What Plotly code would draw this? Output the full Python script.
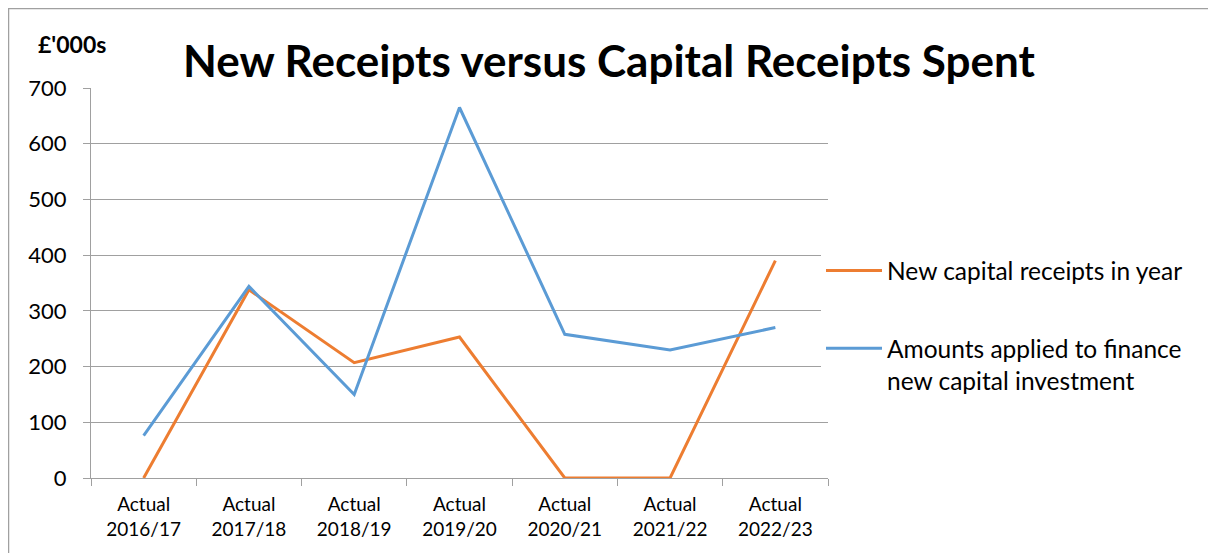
import plotly.graph_objects as go

categories = ["Actual<br>2016/17", "Actual<br>2017/18", "Actual<br>2018/19", "Actual<br>2019/20",
              "Actual<br>2020/21", "Actual<br>2021/22", "Actual<br>2022/23"]
new_receipts = [0, 338, 207, 253, 0, 0, 390]
amounts_applied = [76, 344, 150, 665, 258, 230, 270]

FONT = "Lato"
OFF = 8  # page body margin in the exported html
W, H = 1216 - OFF, 553 - OFF
L, T = 91 - OFF, 88 - OFF
R, B = W - (828 - OFF), H - (478 - OFF)
pw, ph = W - L - R, H - T - B


# helpers: screen pixel -> paper fraction
def px(x):
    return (x - OFF - L) / pw


def py(y):
    return (H - B - (y - OFF)) / ph


fig = go.Figure()
fig.add_trace(go.Scatter(x=categories, y=new_receipts, mode="lines",
                         name="New capital receipts in year",
                         line=dict(color="#ED7D31", width=3), legendgroup="a"))
fig.add_trace(go.Scatter(x=categories, y=amounts_applied, mode="lines",
                         name="Amounts applied to finance<br>new capital investment",
                         line=dict(color="#5B9BD5", width=3), legendgroup="b"))

fig.update_layout(
    width=W, height=H,
    margin=dict(l=L, r=R, t=T, b=B, autoexpand=False),
    paper_bgcolor="white", plot_bgcolor="white",
    font=dict(family=FONT, color="black"),
    title=dict(text="<b>New Receipts versus Capital Receipts Spent</b>",
               xref="container", x=(609 - OFF) / W, xanchor="center",
               yref="container", y=1 - (62 - OFF) / H, yanchor="middle",
               font=dict(size=44, family=FONT)),
    legend=dict(x=px(821), xanchor="left", y=py(248), yanchor="top",
                font=dict(size=24.5, family=FONT), valign="top",
                traceorder="grouped", tracegroupgap=43, itemwidth=56),
    showlegend=True,
)
fig.update_xaxes(type="category", showline=True, linecolor="#A0A0A0", linewidth=1,
                 ticks="outside", tickson="boundaries", ticklen=7, tickcolor="#A0A0A0",
                 showgrid=False, tickfont=dict(size=19, family=FONT), range=[-0.5, 6.5],
                 ticklabelstandoff=9)
fig.update_yaxes(range=[0, 700], dtick=100, showline=True, linecolor="#A0A0A0", linewidth=1,
                 ticks="outside", ticklen=7, tickcolor="#A0A0A0",
                 showgrid=True, gridcolor="#A0A0A0", gridwidth=1, zeroline=False,
                 tickfont=dict(size=22, family=FONT), ticklabelstandoff=12)

fig.add_annotation(text="<b>£'000s</b>", xref="paper", yref="paper",
                   x=px(72), y=py(44), xanchor="center", yanchor="middle",
                   showarrow=False, font=dict(size=23, family=FONT))
fig.add_shape(type="rect", xref="paper", yref="paper",
              x0=px(8.5), x1=px(1210), y0=py(570), y1=py(8.5),
              line=dict(color="#A0A0A0", width=1.5), layer="below")

fig.write_html("out.html")
